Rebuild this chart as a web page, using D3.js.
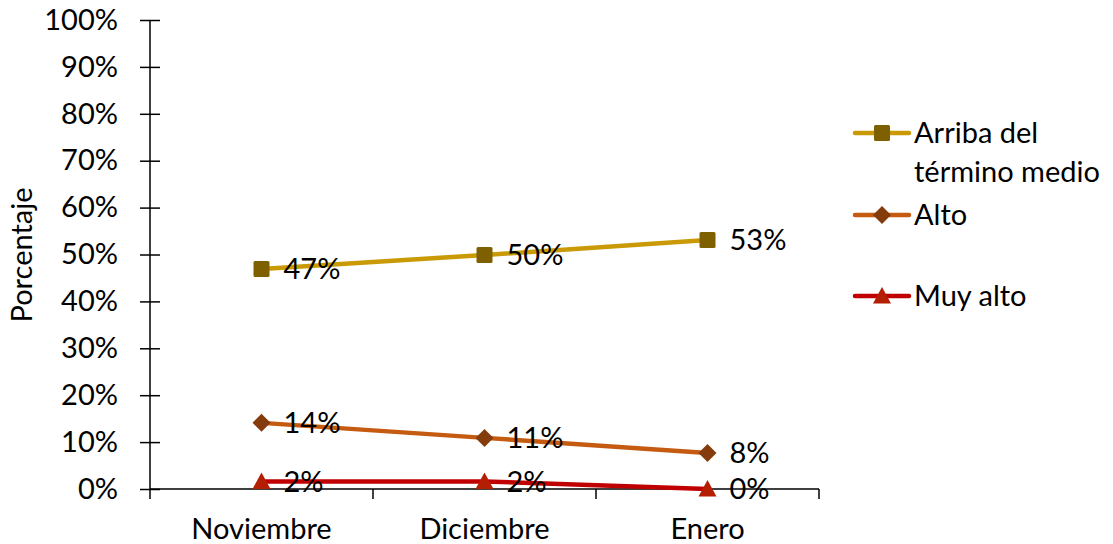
<!DOCTYPE html>
<html>
<head>
<meta charset="utf-8">
<script src="https://cdn.jsdelivr.net/npm/d3@7"></script>
<style>
  body { margin: 0; background: #fff; }
  text { font-family: Lato, "Open Sans", sans-serif; fill: #000; }
</style>
</head>
<body>
<div id="chart"></div>
<script>
const months = ["Noviembre", "Diciembre", "Enero"]
const arribaValues = [46.9, 49.9, 53.1]
const altoValues = [14.1, 10.9, 7.7]
const muyAltoValues = [1.6, 1.6, 0]
const labelsArriba = ["47%", "50%", "53%"]
const labelsAlto = ["14%", "11%", "8%"]
const labelsMuyAlto = ["2%", "2%", "0%"]
const yTicks = [0, 10, 20, 30, 40, 50, 60, 70, 80, 90, 100]

const series = [
    {name: ["Arriba del", "término medio"], values: arribaValues, labels: labelsArriba, line: "#C99A06", fill: "#7F6000", shape: "square", legendY: 133},
    {name: ["Alto"], values: altoValues, labels: labelsAlto, line: "#C55A11", fill: "#843C0C", shape: "diamond", legendY: 215},
    {name: ["Muy alto"], values: muyAltoValues, labels: labelsMuyAlto, line: "#C00000", fill: "#B41F04", shape: "triangle", legendY: 296}
]

const FS = 29
const W = 1113, H = 544
const margin = ({top: 20, right: 294, bottom: 55, left: 150})
const width = W - margin.left - margin.right
const height = H - margin.top - margin.bottom

const svg = d3.select("#chart").append("svg")
    .attr("width", W)
    .attr("height", H)

const g = svg.append("g")
    .attr("transform", `translate(${margin.left},${margin.top})`)

const x = d3.scaleBand().domain(months).range([0, width])
const y = d3.scaleLinear().domain([0, 100]).range([height, 0])

// y axis
const yAxis = d3.axisLeft(y)
    .tickValues(yTicks)
    .tickFormat(d => d + "%")
    .tickSize(10)
const yg = g.append("g").call(yAxis)
yg.select(".domain").attr("stroke", "#000").attr("stroke-width", 1.5).attr("d", `M0,${height}V0`)
yg.selectAll(".tick line").attr("x1", -10).attr("x2", 10).attr("stroke-width", 1.5)
yg.selectAll(".tick text").attr("font-size", FS).attr("font-family", "Lato").attr("x", -32)

// x axis
const xAxis = d3.axisBottom(x).tickSize(0).tickPadding(29)
const xg = g.append("g").attr("transform", `translate(0,${height})`).call(xAxis)
xg.select(".domain").attr("stroke-width", 1.5).attr("d", `M0,0H${width}`)
xg.selectAll(".tick text").attr("font-size", FS).attr("font-family", "Lato")
// boundary tick marks
xg.selectAll(".bound").data(d3.range(months.length + 1)).join("line")
    .attr("class", "bound")
    .attr("x1", i => i * x.step()).attr("x2", i => i * x.step())
    .attr("y1", 0).attr("y2", 10)
    .attr("stroke", "#000").attr("stroke-width", 1.5)

const line = d3.line()
    .x((d, i) => x(months[i]) + x.bandwidth() / 2)
    .y(d => y(d))

function marker(sel, shape, fill) {
    if (shape === "square") {
        sel.append("rect").attr("x", -8).attr("y", -8).attr("width", 16).attr("height", 16).attr("rx", 1.5).attr("fill", fill)
    } else if (shape === "diamond") {
        sel.append("path").attr("d", "M0,-9L9,0L0,9L-9,0Z").attr("fill", fill)
    } else {
        sel.append("path").attr("d", "M0,-9L9,7.5L-9,7.5Z").attr("fill", fill)
    }
}

series.forEach(s => {
    g.append("path")
        .datum(s.values)
        .attr("d", line)
        .attr("fill", "none")
        .attr("stroke", s.line)
        .attr("stroke-width", 4.5)
        .attr("stroke-linecap", "round")

    s.values.forEach((v, i) => {
        const cx = x(months[i]) + x.bandwidth() / 2
        const m = g.append("g").attr("transform", `translate(${cx},${y(v)})`)
        marker(m, s.shape, s.fill)
        g.append("text")
            .attr("x", cx + 22)
            .attr("y", y(v))
            .attr("dy", "0.35em")
            .attr("font-size", FS)
            .text(s.labels[i])
    })

    // legend
    const lg = svg.append("g").attr("transform", `translate(882,${s.legendY})`)
    lg.append("line").attr("x1", -27).attr("x2", 27).attr("stroke", s.line).attr("stroke-width", 4.5).attr("stroke-linecap", "round")
    marker(lg, s.shape, s.fill)
    s.name.forEach((t, k) => {
        lg.append("text").attr("x", 32).attr("y", k * 39).attr("dy", "0.35em").attr("font-size", FS).text(t)
    })
})

// y title
svg.append("text")
    .attr("transform", "translate(32,255) rotate(-90)")
    .attr("text-anchor", "middle")
    .attr("font-size", FS)
    .text("Porcentaje")
</script>
</body>
</html>
